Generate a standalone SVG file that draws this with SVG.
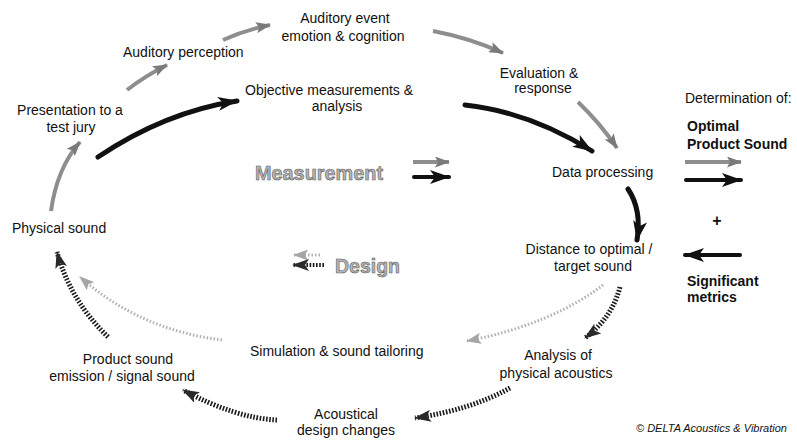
<svg xmlns="http://www.w3.org/2000/svg" width="797" height="440" viewBox="0 0 797 440">
<style>
  text { font-family: "Liberation Sans", Arial, Helvetica, sans-serif; font-size: 14px; fill: #111; }
  .mid { text-anchor: middle; }
  .bold { font-weight: bold; }
  .big { font-size: 21px; font-weight: bold; fill: #b4b4b4; stroke: #5a5a5a; stroke-width: 0.6px; }
  .copy { font-size: 11px; font-style: italic; }
  .gray { fill: none; stroke: #8e8e8e; stroke-width: 4; }
  .black { fill: none; stroke: #111; stroke-width: 5; stroke-linecap: round; }
  .bdash { fill: none; stroke: #1a1a1a; stroke-width: 5; stroke-dasharray: 1.6 1.6; }
  .gdot { fill: none; stroke: #b2b2b2; stroke-width: 3; stroke-dasharray: 1.5 2; }
</style>
<defs>
  <marker id="ah-gray" markerUnits="userSpaceOnUse" viewBox="0 0 15 11" refX="14" refY="5.5" markerWidth="15" markerHeight="11" orient="auto">
    <path d="M0,0 L15,5.5 L0,11 L3,5.5 Z" fill="#7a7a7a"/>
  </marker>
  <marker id="ah-black" markerUnits="userSpaceOnUse" viewBox="0 0 20 14" refX="19" refY="7" markerWidth="20" markerHeight="14" orient="auto">
    <path d="M0,0 L20,7 L0,14 L5,7 Z" fill="#111"/>
  </marker>
  <marker id="ah-bdash" markerUnits="userSpaceOnUse" viewBox="0 0 17 12" refX="16" refY="6" markerWidth="17" markerHeight="12" orient="auto">
    <path d="M0,0 L17,6 L0,12 L4,6 Z" fill="#2a2a2a"/>
  </marker>
  <marker id="ah-gdot" markerUnits="userSpaceOnUse" viewBox="0 0 15 11" refX="14" refY="5.5" markerWidth="15" markerHeight="11" orient="auto">
    <path d="M0,0 L15,5.5 L0,11 L3,5.5 Z" fill="#a6a6a6"/>
  </marker>
</defs>

<g id="connectors">
  <!-- perception path (gray) -->
  <path class="gray" d="M51,211 Q57,168 80,142" marker-end="url(#ah-gray)"/>
  <path class="gray" d="M127,90 Q145,76 167,65" marker-end="url(#ah-gray)"/>
  <path class="gray" d="M223,40 Q245,30 270,25" marker-end="url(#ah-gray)"/>
  <path class="gray" d="M433,31 Q470,38 503,53" marker-end="url(#ah-gray)"/>
  <path class="gray" d="M578,102 Q600,123 617,148" marker-end="url(#ah-gray)"/>
  <!-- measurement path (black) -->
  <path class="black" d="M98,157 Q165,112 237,101" marker-end="url(#ah-black)"/>
  <path class="black" d="M465,105 Q530,112 592,151" marker-end="url(#ah-black)"/>
  <path class="black" d="M628,189 Q642,210 637,240" marker-end="url(#ah-black)"/>
  <!-- design path (black dashed) -->
  <path class="bdash" d="M620,287 Q612,318 585,338" marker-end="url(#ah-bdash)"/>
  <path class="bdash" d="M510,388 Q470,410 415,418" marker-end="url(#ah-bdash)"/>
  <path class="bdash" d="M277,420 Q235,418 183,390" marker-end="url(#ah-bdash)"/>
  <path class="bdash" d="M108,337 Q70,300 57,252" marker-end="url(#ah-bdash)"/>
  <!-- simulation path (gray dotted) -->
  <path class="gdot" d="M603,285 Q550,325 467,341" marker-end="url(#ah-gdot)"/>
  <path class="gdot" d="M222,340 Q140,330 80,277" marker-end="url(#ah-gdot)"/>
</g>

<g id="n-physical-sound"><text x="12" y="233">Physical sound</text></g>
<g id="n-presentation"><text class="mid" x="70" y="115">Presentation to a</text><text class="mid" x="71" y="132">test jury</text></g>
<g id="n-auditory-perception"><text x="123" y="57">Auditory perception</text></g>
<g id="n-auditory-event"><text class="mid" x="345" y="23">Auditory event</text><text class="mid" x="343" y="41">emotion &amp; cognition</text></g>
<g id="n-objective"><text x="245" y="95">Objective measurements &amp;</text><text class="mid" x="337" y="111">analysis</text></g>
<g id="n-evaluation"><text class="mid" x="539" y="78">Evaluation &amp;</text><text class="mid" x="543" y="93">response</text></g>
<g id="n-data-processing"><text x="552" y="177">Data processing</text></g>
<g id="n-distance"><text class="mid" x="589" y="254">Distance to optimal /</text><text class="mid" x="593" y="271">target sound</text></g>
<g id="n-analysis"><text class="mid" x="558" y="360">Analysis of</text><text class="mid" x="556" y="378">physical acoustics</text></g>
<g id="n-acoustical"><text class="mid" x="346" y="419">Acoustical</text><text class="mid" x="346" y="435">design changes</text></g>
<g id="n-product-sound"><text class="mid" x="128" y="364">Product sound</text><text class="mid" x="122" y="381">emission / signal sound</text></g>
<g id="n-simulation"><text x="250" y="356">Simulation &amp; sound tailoring</text></g>

<g id="legend-measurement">
  <text class="big" x="255" y="180" textLength="128" lengthAdjust="spacingAndGlyphs">Measurement</text>
  <path class="gray" d="M413,162 L449,162" marker-end="url(#ah-gray)"/>
  <path class="black" style="stroke-width:4" d="M414,177 L449,177" marker-end="url(#ah-black)"/>
</g>
<g id="legend-design">
  <text class="big" x="335" y="273" textLength="65" lengthAdjust="spacingAndGlyphs">Design</text>
  <path class="gdot" d="M320,255 L294,255" marker-end="url(#ah-gdot)"/>
  <path class="bdash" style="stroke-width:4" d="M324,265 L293,265" marker-end="url(#ah-bdash)"/>
</g>
<g id="legend-right">
  <text x="685" y="103">Determination of:</text>
  <text class="bold" x="687" y="131">Optimal</text>
  <text class="bold" x="687" y="149">Product Sound</text>
  <path class="gray" d="M685,162 L741,162" marker-end="url(#ah-gray)"/>
  <path class="black" style="stroke-width:4" d="M686,180 L741,180" marker-end="url(#ah-black)"/>
  <text class="bold mid" x="717" y="226" style="font-size:16px">+</text>
  <path class="black" style="stroke-width:4" d="M740,255 L685,255" marker-end="url(#ah-black)"/>
  <text class="bold" x="687" y="286">Significant</text>
  <text class="bold" x="687" y="302">metrics</text>
</g>
<g id="copyright"><text class="copy" x="636" y="432">© DELTA Acoustics &amp; Vibration</text></g>
</svg>
